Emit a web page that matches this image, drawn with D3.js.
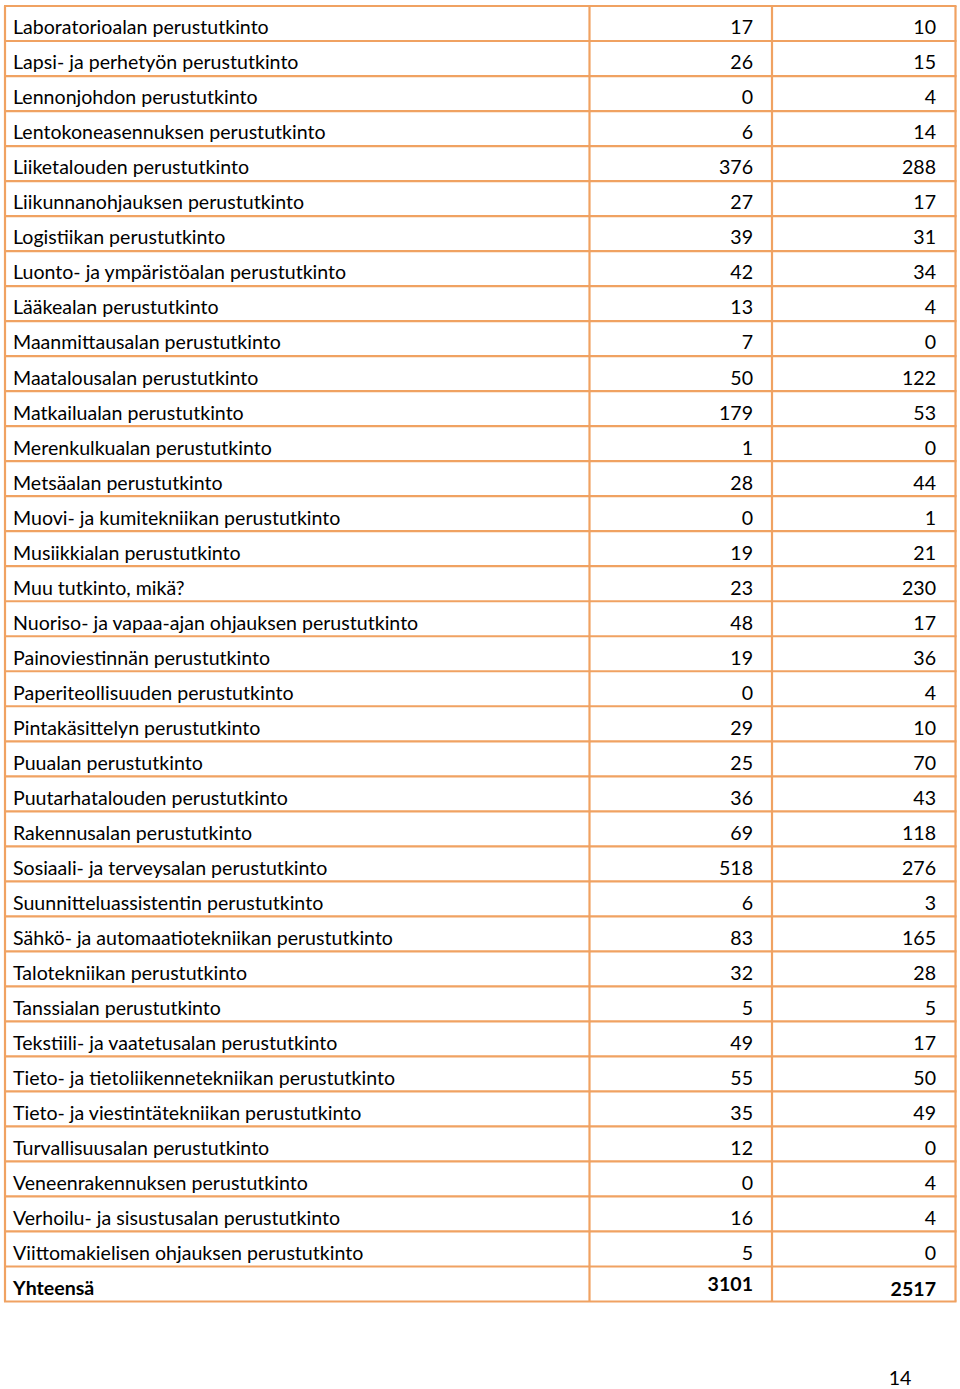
<!DOCTYPE html>
<html><head><meta charset="utf-8">
<script src="https://cdn.jsdelivr.net/npm/d3@7"></script>
<style>html,body{margin:0;padding:0;background:#fff;}svg{display:block;}</style>
</head><body>
<script>
const categories = ["Laboratorioalan perustutkinto","Lapsi- ja perhetyön perustutkinto","Lennonjohdon perustutkinto","Lentokoneasennuksen perustutkinto","Liiketalouden perustutkinto","Liikunnanohjauksen perustutkinto","Logistiikan perustutkinto","Luonto- ja ympäristöalan perustutkinto","Lääkealan perustutkinto","Maanmittausalan perustutkinto","Maatalousalan perustutkinto","Matkailualan perustutkinto","Merenkulkualan perustutkinto","Metsäalan perustutkinto","Muovi- ja kumitekniikan perustutkinto","Musiikkialan perustutkinto","Muu tutkinto, mikä?","Nuoriso- ja vapaa-ajan ohjauksen perustutkinto","Painoviestinnän perustutkinto","Paperiteollisuuden perustutkinto","Pintakäsittelyn perustutkinto","Puualan perustutkinto","Puutarhatalouden perustutkinto","Rakennusalan perustutkinto","Sosiaali- ja terveysalan perustutkinto","Suunnitteluassistentin perustutkinto","Sähkö- ja automaatiotekniikan perustutkinto","Talotekniikan perustutkinto","Tanssialan perustutkinto","Tekstiili- ja vaatetusalan perustutkinto","Tieto- ja tietoliikennetekniikan perustutkinto","Tieto- ja viestintätekniikan perustutkinto","Turvallisuusalan perustutkinto","Veneenrakennuksen perustutkinto","Verhoilu- ja sisustusalan perustutkinto","Viittomakielisen ohjauksen perustutkinto"];
const series1 = [17,26,0,6,376,27,39,42,13,7,50,179,1,28,0,19,23,48,19,0,29,25,36,69,518,6,83,32,5,49,55,35,12,0,16,5];
const series2 = [10,15,4,14,288,17,31,34,4,0,122,53,0,44,1,21,230,17,36,4,10,70,43,118,276,3,165,28,5,17,50,49,0,4,4,0];
const totalLabel = "Yhteensä";
const totals = [3101, 2517];
const pageNumber = "14";

const W = 960, H = 1389;
const svg = d3.select("body").append("svg").attr("width", W).attr("height", H);
const font = "Lato, 'Open Sans', sans-serif";
const lineColor = "#F0A262";

const rowsAll = categories.map((c,i)=>({label:c, a:series1[i], b:series2[i], bold:false}));
rowsAll.push({label: totalLabel, a: totals[0], b: totals[1], bold:true});

const y = d3.scaleBand().domain(d3.range(rowsAll.length)).range([6, 1301.5]).paddingInner(0).paddingOuter(0);
const colX = [5, 589.5, 772, 955.5];

// fit font size
const probe = svg.append("text").attr("font-family", font).attr("font-size", 20).text(categories[0]);
const w20 = probe.node().getComputedTextLength();
probe.remove();
const fs = 20 * 256 / w20;
const dy = fs*0.35 + 4;

const g = svg.append("g");
rowsAll.forEach((r,i)=>{
  const y0 = y(i), cy = y0 + y.bandwidth()/2;
  g.append("text").attr("x", 13).attr("y", cy + dy)
    .attr("font-family", font).attr("font-size", fs).attr("font-weight", r.bold?"bold":"normal")
    .attr("fill","#000").text(r.label);
  g.append("text").attr("x", 753).attr("y", cy + dy + (r.bold?-4:0)).attr("text-anchor","end")
    .attr("font-family", font).attr("font-size", fs).attr("font-weight", r.bold?"bold":"normal")
    .attr("fill","#000").text(r.a);
  g.append("text").attr("x", 936).attr("y", cy + dy + (r.bold?1:0)).attr("text-anchor","end")
    .attr("font-family", font).attr("font-size", fs).attr("font-weight", r.bold?"bold":"normal")
    .attr("fill","#000").text(r.b);
});

// grid lines
const lines = svg.append("g").attr("stroke", lineColor).attr("stroke-width", 2.2);
d3.range(rowsAll.length+1).forEach(i=>{
  const yy = i < rowsAll.length ? y(i) : y(rowsAll.length-1) + y.bandwidth();
  lines.append("line").attr("x1", colX[0]-1).attr("x2", colX[3]+1).attr("y1", yy).attr("y2", yy);
});
colX.forEach(x=>{
  lines.append("line").attr("x1", x).attr("x2", x).attr("y1", 6).attr("y2", 1301.5);
});

svg.append("text").attr("x", 900).attr("y", 1385).attr("text-anchor","middle")
  .attr("font-family", font).attr("font-size", fs).attr("fill","#000").text(pageNumber);
</script>
</body></html>
